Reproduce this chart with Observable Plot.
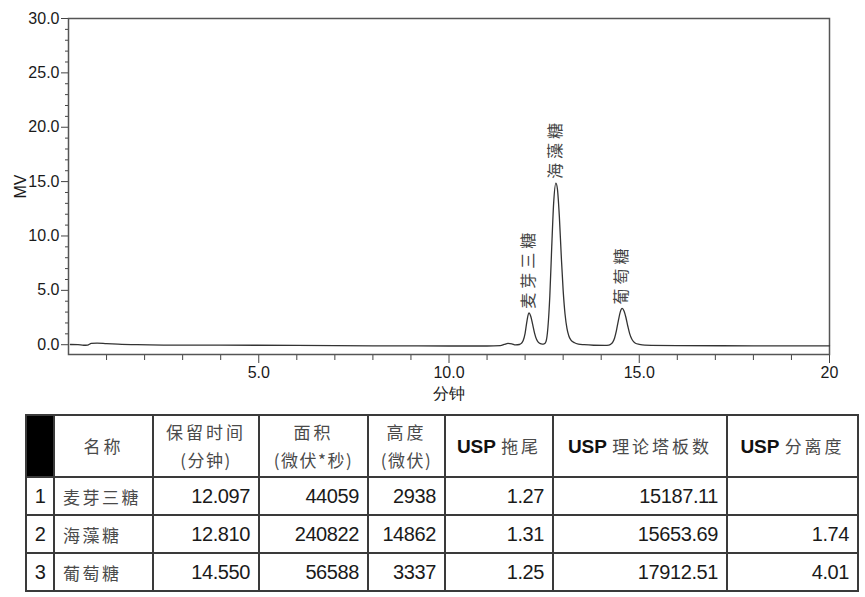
<!DOCTYPE html>
<html>
<head>
<meta charset="utf-8">
<script src="https://cdn.jsdelivr.net/npm/d3@7"></script>
<script src="https://cdn.jsdelivr.net/npm/@observablehq/plot@0.6"></script>
<style>
  html, body { margin: 0; padding: 0; background: #fff; }
  #chart svg { display: block; }
  .peak text { letter-spacing: 4px; }
  table.res {
    border-collapse: collapse;
    margin: 9px 0 0 25px;
    table-layout: fixed;
    width: 832px;
    font-family: "Liberation Sans", Arial, sans-serif;
    color: #1a1a1a;
  }
  table.res td, table.res th {
    border: 2px solid #3a3a3a;
    padding: 0 8px;
    font-size: 20px;
    letter-spacing: -0.4px;
    white-space: nowrap;
    overflow: hidden;
  }
  table.res th {
    height: 60px;
    font-weight: normal;
    text-align: center;
    line-height: 27px;
    padding: 0 2px;
  }
  table.res td { height: 36px; text-align: right; }
  table.res td.idx { text-align: center; padding: 0; }
  table.res td.name, table.res .zh {
    font-family: "Noto Sans CJK SC", sans-serif;
    color: #4a4a4a;
    letter-spacing: 2.5px;
    font-size: 17px;
  }
  table.res th .zh { letter-spacing: 3px; font-size: 17px; }
  table.res th .zh.sub { letter-spacing: 1.5px; }
  table.res td.name { text-align: left; }
  table.res th.blk { background: #000; }
  table.res b { font-family: "Liberation Sans", Arial, sans-serif; color: #111; font-size: 19px; letter-spacing: 0; }
</style>
</head>
<body>
<div id="chart"></div>
<div id="tbl"></div>
<script>
// ---- chromatogram trace (minutes, MV) ----
const traceTime = [0.05,0.25,0.40,0.50,0.60,0.75,1.00,1.30,1.80,2.50,4.00,6.00,8.00,10.00,11.00,11.35,11.45,11.55,11.65,11.75,
  11.85,11.90,11.95,12.00,12.05,12.10,12.15,12.20,12.25,12.30,12.35,12.40,12.45,
  12.50,12.55,12.60,12.65,12.70,12.75,12.81,12.85,12.90,12.95,13.00,13.05,13.10,13.15,13.20,13.30,13.40,13.55,13.80,14.10,
  14.20,14.25,14.30,14.35,14.40,14.45,14.50,14.55,14.60,14.65,14.70,14.75,14.80,14.85,14.90,15.00,15.15,16.00,18.00,20.00];
const traceSignal = [0.02,0.00,-0.05,-0.03,0.12,0.15,0.10,0.05,0.00,-0.03,-0.04,-0.06,-0.10,-0.12,-0.12,-0.08,0.02,0.12,0.08,-0.02,
  0.02,0.12,0.38,1.05,2.2,2.93,2.6,1.85,1.05,0.5,0.22,0.1,0.06,
  0.08,0.3,1.6,4.5,9.0,13.0,14.86,14.3,11.8,8.2,5.0,2.8,1.5,0.8,0.45,0.18,0.06,0.0,-0.05,-0.06,
  -0.04,0.05,0.22,0.6,1.3,2.2,3.0,3.34,3.1,2.5,1.7,1.0,0.55,0.28,0.13,0.03,-0.04,-0.08,-0.1,-0.1];

// ---- axis ticks ----
const xMajor = [5, 10, 15, 20];
const xMajorLabels = ["5.0", "10.0", "15.0", "20"];
const xMinor = [1,2,3,4,6,7,8,9,11,12,13,14,16,17,18,19];
const yMajor = [0, 5, 10, 15, 20, 25, 30];
const yMajorLabels = ["0.0", "5.0", "10.0", "15.0", "20.0", "25.0", "30.0"];
const yMinor = [1,2,3,4,6,7,8,9,11,12,13,14,16,17,18,19,21,22,23,24,26,27,28,29];

// ---- peak table ----
const peakIndex = [1, 2, 3];
const peakNames = ["麦芽三糖", "海藻糖", "葡萄糖"];
const retention = ["12.097", "12.810", "14.550"];
const area = ["44059", "240822", "56588"];
const heightUV = ["2938", "14862", "3337"];
const tailing = ["1.27", "1.31", "1.25"];
const plates = ["15187.11", "15653.69", "17912.51"];
const resolution = ["", "1.74", "4.01"];
const headers = [["名称"], ["保留时间", "(分钟)"], ["面积", "(微伏*秒)"], ["高度", "(微伏)"], ["USP|拖尾"], ["USP|理论塔板数"], ["USP|分离度"]];

const trace = traceTime.map((t, i) => ({t, v: traceSignal[i]}));
const peaks = peakNames.map((n, i) => ({name: n, t: +retention[i], v: +heightUV[i] / 1000}));

const font = "Liberation Sans, Arial, sans-serif";
const plot = Plot.plot({
  width: 865,
  height: 405,
  marginLeft: 68,
  marginRight: 36,
  marginTop: 18,
  marginBottom: 51,
  style: {fontFamily: font, fontSize: "16px", color: "#1a1a1a", background: "#fff"},
  x: {domain: [0, 20]},
  y: {domain: [-0.9, 30]},
  marks: [
    Plot.axisY(yMinor, {tickSize: 3, tickFormat: () => "", label: null, stroke: "#444"}),
    Plot.axisY(yMajor, {tickSize: 7, tickPadding: 2, tickFormat: (d) => yMajorLabels[yMajor.indexOf(d)],
      label: "MV", labelAnchor: "center", labelOffset: 54, labelArrow: "none", stroke: "#444", fontSize: 16}),
    Plot.axisX(xMinor, {tickSize: 6, tickFormat: () => "", label: null, stroke: "#444"}),
    Plot.axisX(xMajor, {tickSize: 9, tickPadding: 3, tickFormat: (d) => xMajorLabels[xMajor.indexOf(d)],
      label: "分钟", labelAnchor: "center", labelOffset: 44, labelArrow: "none", stroke: "#444", fontSize: 16}),
    Plot.frame({stroke: "#555", strokeWidth: 1.5}),
    Plot.line(trace, {x: "t", y: "v", stroke: "#333", strokeWidth: 1.3, curve: "monotone-x"}),
    Plot.text(peaks, {x: "t", y: "v", text: "name", rotate: -90, textAnchor: "start", dy: -4,
      fontSize: 16, fill: "#444", fontFamily: "Noto Sans CJK SC", className: "peak"})
  ]
});
document.getElementById("chart").appendChild(plot);

// table
const tbl = document.createElement("table");
tbl.className = "res";
const colW = [28, 99, 106, 109, 77, 108, 174, 131];
const cg = document.createElement("colgroup");
colW.forEach(w => { const c = document.createElement("col"); c.style.width = w + "px"; cg.appendChild(c); });
tbl.appendChild(cg);
const hr = document.createElement("tr");
const blk = document.createElement("th"); blk.className = "blk"; hr.appendChild(blk);
headers.forEach(lines => {
  const th = document.createElement("th");
  th.innerHTML = lines.map((l, j) => {
    if (l.includes("|")) { const [a, b] = l.split("|"); return `<b>${a}</b> <span class="zh">${b}</span>`; }
    return `<span class="zh${j > 0 ? " sub" : ""}">${l}</span>`;
  }).join("<br>");
  hr.appendChild(th);
});
tbl.appendChild(hr);
peakIndex.forEach((k, i) => {
  const tr = document.createElement("tr");
  const cells = [[k, "idx"], [peakNames[i], "name"], [retention[i], ""], [area[i], ""], [heightUV[i], ""],
    [tailing[i], ""], [plates[i], ""], [resolution[i], ""]];
  cells.forEach(([v, c]) => { const td = document.createElement("td"); if (c) td.className = c; td.textContent = v; tr.appendChild(td); });
  tbl.appendChild(tr);
});
document.getElementById("tbl").appendChild(tbl);
</script>
</body>
</html>
